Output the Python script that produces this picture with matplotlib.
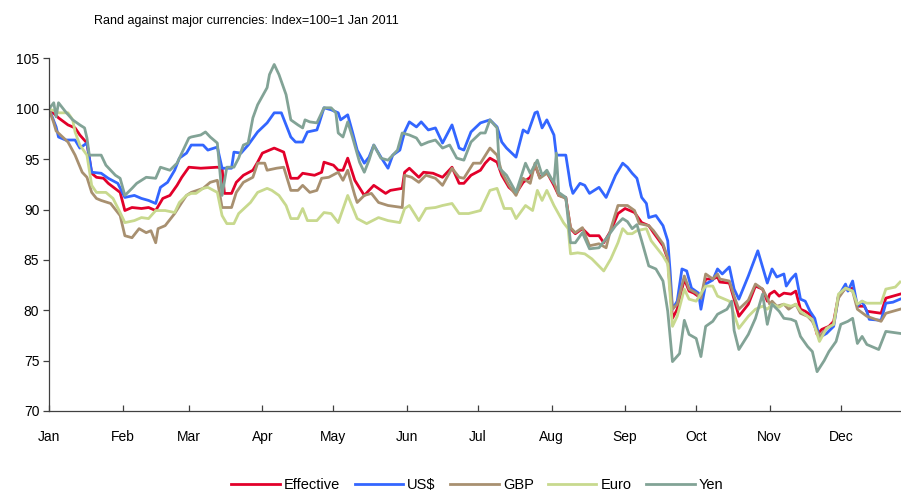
import matplotlib
matplotlib.use("Agg")
import matplotlib.pyplot as plt
import matplotlib.dates as mdates
import pandas as pd

plt.rcParams["font.family"] = ["Liberation Sans", "DejaVu Sans"]

START = pd.Timestamp("2011-01-01")

# day offsets from 1 Jan 2011 and index values
eff_day = [0, 4, 8, 11, 13, 16, 18, 20, 23, 25,
           30, 32, 35, 39, 42, 45, 48, 51, 54, 56,
           59, 64, 71, 73, 74, 77, 79, 82, 86, 88,
           90, 95, 99, 102, 105, 107, 112, 115, 116, 120,
           122, 124, 126, 129, 133, 137, 142, 144, 149, 150,
           152, 156, 158, 162, 166, 170, 173, 175, 178, 182,
           184, 186, 189, 191, 194, 197, 200, 203, 205, 207,
           210, 213, 215, 218, 220, 222, 225, 228, 232, 234,
           237, 240, 243, 247, 250, 253, 255, 259, 261, 263,
           265, 268, 270, 272, 275, 277, 280, 282, 283, 287,
           289, 291, 295, 298, 301, 303, 304, 306, 308, 310,
           313, 315, 317, 319, 322, 324, 326, 329, 331, 333,
           336, 338, 339, 341, 344, 345, 351, 353, 359]
eff_val = [100, 99.1, 98.4, 98.1, 97.4, 96.6, 93.6, 93.2, 93.1, 92.6,
           91.7, 89.9, 90.2, 90.1, 90.2, 89.9, 91.1, 91.4, 92.4, 93.2,
           94.2, 94.1, 94.2, 94.1, 91.6, 91.6, 92.7, 93.4, 93.9, 94.7,
           95.6, 96.1, 95.7, 93.1, 93.1, 93.6, 93.4, 93.7, 94.7, 94.4,
           93.9, 93.9, 95.1, 92.9, 91.4, 92.4, 91.6, 91.9, 92.1, 93.7,
           94.1, 93.2, 93.7, 93.6, 93.2, 94.2, 92.6, 92.6, 93.4, 93.9,
           94.6, 95.1, 94.7, 93.4, 92.2, 91.6, 92.7, 93.2, 94.4, 93.2,
           93.7, 92.4, 91.4, 91.2, 88.1, 87.6, 88.1, 87.4, 87.4, 86.7,
           87.9, 89.6, 90.1, 89.7, 88.7, 88.4, 87.7, 86.4, 85.1, 79.2,
           80.1, 83.1, 81.9, 81.7, 81.2, 83.1, 83.1, 83.3, 82.8, 82.7,
           81.1, 79.4, 80.6, 82.4, 82.1, 80.9, 81.6, 81.9, 81.4, 81.7,
           81.6, 81.9, 80.1, 79.9, 79.4, 77.6, 78.1, 78.4, 78.9, 81.4,
           82.2, 82.1, 82.2, 80.4, 80.4, 79.9, 79.7, 81.2, 81.6]

usd_day = [0, 3, 4, 7, 11, 13, 16, 18, 22, 25,
           29, 32, 36, 39, 42, 45, 47, 50, 53, 55,
           58, 60, 65, 67, 71, 73, 77, 78, 81, 84,
           88, 92, 95, 98, 102, 104, 107, 109, 113, 114,
           116, 119, 122, 123, 126, 128, 130, 133, 135, 137,
           140, 143, 145, 148, 150, 152, 155, 157, 160, 163,
           166, 170, 173, 175, 178, 182, 186, 189, 191, 193,
           197, 200, 202, 205, 206, 208, 210, 213, 214, 218,
           220, 221, 224, 226, 228, 232, 235, 239, 242, 244,
           246, 248, 250, 252, 253, 256, 259, 261, 262, 263,
           265, 267, 269, 271, 274, 275, 277, 280, 282, 284,
           287, 289, 291, 295, 299, 301, 303, 305, 307, 310,
           311, 313, 315, 317, 319, 321, 323, 325, 328, 331,
           333, 336, 337, 339, 341, 343, 345, 346, 351, 353,
           356, 359]
usd_val = [100, 98.2, 97.2, 96.9, 96.9, 96.1, 96.6, 93.7, 93.6, 93.1,
           92.6, 91.2, 91.4, 91.1, 90.9, 90.6, 92.2, 92.7, 93.9, 95.1,
           95.6, 96.4, 96.4, 95.9, 96.2, 94.1, 94.1, 95.7, 95.6, 96.4,
           97.7, 98.6, 99.6, 99.6, 97.2, 96.7, 96.7, 97.7, 97.9, 98.6,
           100.1, 99.9, 99.6, 98.9, 99.4, 97.7, 95.9, 94.6, 95.2, 96.4,
           95.2, 94.1, 95.4, 95.9, 97.7, 98.7, 98.2, 98.7, 97.9, 98.1,
           96.6, 98.4, 96.1, 95.9, 97.7, 98.6, 98.9, 98.2, 96.7, 96.1,
           95.2, 97.9, 97.6, 99.6, 99.7, 98.1, 98.9, 97.4, 95.4, 95.4,
           92.4, 91.6, 92.6, 92.4, 91.6, 92.2, 91.2, 93.4, 94.6, 94.2,
           93.6, 93.1, 91.2, 90.6, 89.2, 89.4, 88.4, 86.9, 83.9, 80.1,
           80.9, 84.1, 83.9, 82.2, 81.7, 80.1, 82.6, 83.0, 84.1, 83.6,
           84.3, 82.1, 81.1, 83.4, 85.9, 84.3, 82.7, 84.1, 83.3, 83.6,
           82.4, 83.1, 83.6, 81.1, 80.9, 79.9, 79.2, 77.3, 77.7, 78.4,
           81.4, 82.6, 81.9, 82.9, 80.4, 80.9, 79.9, 79.1, 79.0, 80.7,
           80.8, 81.1]

gbp_day = [0, 2, 3, 8, 11, 14, 16, 18, 20, 22,
           26, 30, 32, 35, 38, 41, 43, 45, 46, 49,
           53, 56, 58, 60, 65, 68, 71, 73, 77, 79,
           82, 86, 88, 91, 92, 96, 99, 102, 105, 107,
           110, 113, 115, 118, 122, 124, 126, 129, 130, 133,
           136, 139, 143, 149, 150, 153, 156, 159, 163, 166,
           170, 173, 175, 179, 182, 186, 189, 191, 194, 197,
           200, 203, 205, 207, 210, 213, 215, 218, 220, 222,
           225, 228, 232, 235, 237, 240, 244, 247, 249, 253,
           255, 259, 261, 263, 265, 268, 270, 273, 275, 277,
           280, 282, 283, 287, 289, 291, 295, 298, 301, 303,
           304, 305, 307, 310, 312, 315, 317, 320, 322, 325,
           328, 331, 333, 336, 339, 341, 345, 351, 353, 359]
gbp_val = [100, 98.6, 97.8, 96.7, 95.4, 93.7, 93.2, 91.7, 91.1, 90.9,
           90.6, 89.4, 87.4, 87.2, 88.1, 87.7, 87.9, 86.7, 88.1, 88.4,
           89.6, 90.7, 91.4, 91.7, 92.1, 92.7, 92.9, 90.2, 90.2, 91.7,
           92.7, 93.2, 94.6, 94.6, 93.9, 94.1, 94.2, 91.9, 91.9, 92.4,
           91.7, 91.9, 93.1, 93.2, 93.7, 92.9, 93.9, 91.4, 90.7, 91.4,
           91.6, 90.7, 90.4, 90.2, 93.4, 93.2, 92.7, 93.4, 93.1, 92.4,
           94.1, 93.2, 93.1, 94.6, 94.6, 96.1, 95.4, 93.7, 92.4, 91.4,
           93.1, 92.6, 94.6, 93.1, 93.6, 92.7, 91.4, 91.1, 88.2, 87.7,
           88.2, 86.4, 86.6, 86.2, 88.1, 90.4, 90.4, 89.9, 88.6, 88.4,
           87.9, 86.6, 85.2, 80.1, 80.6, 83.4, 82.1, 81.7, 81.2, 83.6,
           83.1, 83.6, 83.1, 82.9, 81.4, 80.1, 81.0, 82.6, 82.1, 81.2,
           80.6, 80.9, 80.4, 80.6, 80.1, 80.6, 79.7, 79.4, 78.9, 77.4,
           78.2, 78.6, 81.2, 82.2, 81.9, 80.1, 79.4, 78.9, 79.7, 80.1]

eur_day = [0, 4, 8, 10, 11, 13, 16, 18, 20, 24,
           27, 30, 32, 36, 39, 42, 45, 49, 53, 55,
           58, 60, 62, 65, 67, 71, 73, 75, 78, 80,
           85, 88, 92, 94, 97, 100, 102, 105, 107, 109,
           113, 116, 119, 122, 126, 130, 134, 139, 143, 148,
           150, 152, 156, 159, 163, 166, 170, 173, 177, 182,
           186, 189, 192, 195, 197, 201, 204, 206, 208, 210,
           213, 217, 219, 220, 223, 226, 229, 234, 237, 240,
           242, 244, 246, 248, 252, 254, 259, 261, 263, 265,
           268, 270, 273, 277, 280, 282, 287, 289, 291, 295,
           298, 301, 303, 305, 308, 310, 313, 315, 317, 320,
           322, 325, 328, 331, 333, 336, 339, 341, 343, 345,
           351, 353, 357, 359]
eur_val = [100, 99.6, 99.6, 98.9, 97.7, 96.4, 95.4, 92.4, 91.7, 91.7,
           91.1, 89.7, 88.7, 88.9, 89.2, 89.1, 89.9, 89.9, 89.7, 90.7,
           91.4, 91.6, 91.6, 92.1, 92.2, 91.7, 89.4, 88.6, 88.6, 89.6,
           90.7, 91.7, 92.1, 91.9, 91.4, 90.4, 89.1, 89.1, 90.1, 88.9,
           88.9, 89.7, 89.6, 88.7, 91.4, 89.1, 88.6, 89.2, 88.9, 88.7,
           90.1, 90.4, 88.9, 90.1, 90.2, 90.4, 90.6, 89.6, 89.6, 89.9,
           91.9, 92.1, 90.1, 90.1, 89.1, 90.4, 89.9, 91.9, 90.9, 91.9,
           90.4, 88.7, 88.1, 85.6, 85.7, 85.6, 85.1, 83.9, 85.1, 86.7,
           88.1, 87.6, 87.6, 87.9, 88.1, 86.9, 85.4, 84.6, 78.4, 79.4,
           82.1, 81.1, 80.9, 82.4, 82.4, 81.4, 80.9, 79.6, 78.2, 79.4,
           80.1, 80.4, 80.1, 80.6, 80.3, 80.6, 80.4, 80.6, 79.9, 79.4,
           79.1, 76.9, 78.2, 78.6, 81.6, 82.2, 81.9, 80.6, 80.9, 80.7,
           80.7, 82.1, 82.3, 82.8]

jpy_day = [0, 2, 3, 4, 7, 10, 13, 15, 16, 17,
           22, 24, 28, 30, 32, 35, 37, 41, 45, 47,
           51, 54, 57, 59, 60, 64, 66, 68, 71, 73,
           75, 78, 80, 82, 84, 86, 88, 92, 93, 95,
           97, 100, 102, 105, 107, 108, 110, 113, 116, 119,
           121, 122, 124, 126, 128, 131, 133, 135, 137, 140,
           143, 147, 149, 152, 155, 157, 160, 163, 166, 169,
           172, 175, 178, 182, 184, 186, 189, 190, 193, 197,
           201, 203, 206, 208, 210, 213, 214, 215, 218, 220,
           222, 225, 228, 232, 235, 239, 242, 244, 246, 248,
           250, 253, 256, 259, 261, 263, 266, 268, 270, 273,
           275, 277, 280, 282, 286, 288, 289, 291, 295, 298,
           301, 303, 305, 308, 310, 313, 315, 317, 320, 322,
           324, 327, 329, 332, 334, 337, 339, 341, 343, 345,
           350, 353, 359]
jpy_val = [100, 100.6, 99.2, 100.6, 99.7, 98.9, 98.4, 98.1, 97.1, 95.4,
           95.4, 94.4, 93.4, 93.1, 91.4, 92.1, 92.6, 93.2, 93.1, 94.2,
           93.9, 94.6, 96.1, 97.1, 97.2, 97.4, 97.7, 97.2, 96.6, 91.4,
           94.2, 94.2, 95.1, 96.4, 96.6, 99.1, 100.4, 102.1, 103.4, 104.4,
           103.4, 101.4, 98.9, 98.4, 98.1, 98.9, 98.7, 98.6, 100.1, 100.1,
           99.6, 97.6, 97.2, 98.7, 97.2, 94.7, 93.7, 94.9, 96.4, 95.1,
           94.9, 95.9, 97.6, 97.4, 97.1, 96.4, 96.7, 96.9, 96.1, 96.4,
           95.1, 94.9, 96.7, 97.6, 97.6, 98.9, 98.1, 94.1, 93.4, 91.7,
           94.6, 93.6, 94.9, 93.4, 93.9, 92.6, 95.6, 91.7, 91.2, 86.7,
           86.7, 87.7, 86.1, 86.2, 87.1, 88.4, 89.1, 88.8, 88.1, 88.5,
           86.9, 84.4, 84.1, 82.9, 79.9, 74.9, 75.7, 79.0, 77.6, 77.2,
           75.4, 78.4, 78.9, 79.6, 80.1, 80.9, 78.0, 76.1, 77.6, 79.2,
           81.6, 78.6, 80.6, 79.9, 79.2, 79.1, 78.9, 77.4, 76.4, 75.9,
           73.9, 75.0, 75.9, 76.9, 78.6, 78.9, 79.2, 76.7, 77.4, 76.6,
           76.1, 77.9, 77.7]

LABELS = ["Effective", "US$", "GBP", "Euro", "Yen"]
COLOURS = ["#e2002a", "#3366ff", "#a89070", "#c8d98e", "#82a396"]
SERIES = [(eff_day, eff_val), (usd_day, usd_val), (gbp_day, gbp_val),
          (eur_day, eur_val), (jpy_day, jpy_val)]


def to_dates(days):
    return START + pd.to_timedelta(days, unit="D")


fig = plt.figure(figsize=(9.01, 4.91), dpi=100)
ax = fig.add_axes([0.0544, 0.163, 0.9456, 0.718])

for (days, vals), lab, col in zip(SERIES, LABELS, COLOURS):
    ax.plot(to_dates(days), vals, color=col, lw=2.0, label=lab,
            solid_joinstyle="round")

ax.set_ylim(70, 105)
ax.set_yticks(range(70, 106, 5))
ax.set_xlim(START, START + pd.Timedelta(days=359.4))
ax.xaxis.set_major_locator(mdates.MonthLocator())
ax.xaxis.set_major_formatter(mdates.DateFormatter("%b"))

for side in ("top", "right"):
    ax.spines[side].set_visible(False)
for side in ("left", "bottom"):
    ax.spines[side].set_color("#404040")
    ax.spines[side].set_linewidth(0.9)

ax.tick_params(axis="y", direction="out", length=4, width=0.9,
               color="#404040", labelsize=10, pad=3)
ax.tick_params(axis="x", direction="in", length=4, width=0.9,
               color="#404040", labelsize=10, pad=14)

fig.text(0.273, 0.958, "Rand against major currencies: Index=100=1 Jan 2011",
         ha="center", va="center", fontsize=9)

fig.legend(loc="center", bbox_to_anchor=(0.53, 0.013), ncol=5,
           frameon=False, fontsize=10.5, handlelength=3.3, handletextpad=0.3,
           columnspacing=1.0)

fig.savefig("out.png", dpi=100)
